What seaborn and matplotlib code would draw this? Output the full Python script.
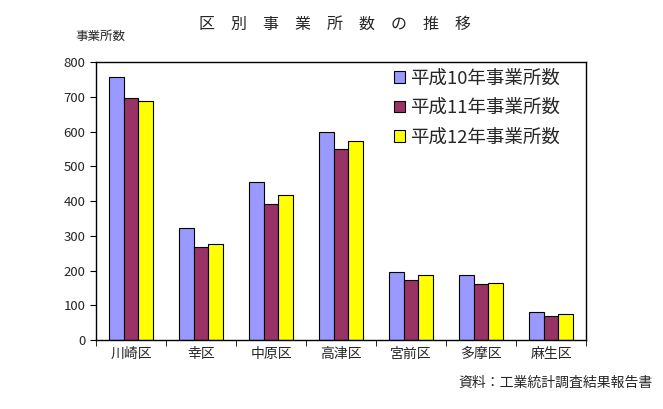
import pandas as pd
import seaborn as sns
import matplotlib.pyplot as plt
import numpy as np

# Data
wards = ['川崎区', '幸区', '中原区', '高津区', '宮前区', '多摩区', '麻生区']
series = ['平成10年事業所数', '平成11年事業所数', '平成12年事業所数']
h10 = [757, 322, 454, 598, 195, 186, 80]
h11 = [696, 267, 391, 550, 173, 160, 68]
h12 = [687, 276, 417, 573, 186, 163, 74]
colors = ['#9999FF', '#993366', '#FFFF00']

df = pd.DataFrame({'区': wards, series[0]: h10, series[1]: h11, series[2]: h12})
df_long = df.melt(id_vars='区', var_name='系列', value_name='事業所数')

sns.set_style('white')
plt.rcParams['font.family'] = ['Noto Sans CJK JP', 'DejaVu Sans']

fig = plt.figure(figsize=(6.63, 4.09), dpi=100)
ax = fig.add_axes([0.1448, 0.1687, 0.7391, 0.6797])

sns.barplot(
    data=df_long, x='区', y='事業所数', hue='系列',
    order=wards, hue_order=series, palette=colors,
    width=0.64, gap=0, edgecolor='black', linewidth=0.8,
    saturation=1, ax=ax,
)

ax.set_ylim(0, 800)
ax.set_yticks(np.arange(0, 801, 100))
ax.set_xlim(-0.5, len(wards) - 0.5)
ax.set_xlabel('')
ax.set_ylabel('')
for s in ax.spines.values():
    s.set_color('black')
    s.set_linewidth(1)

# tick marks between groups, labels at centers
ax.set_xticks(np.arange(-0.5, len(wards), 1), minor=True)
ax.tick_params(axis='x', which='major', length=0, labelsize=10, pad=5)
ax.tick_params(axis='x', which='minor', length=4, direction='out', color='black', bottom=True)
ax.tick_params(axis='y', length=4, direction='out', color='black', left=True, labelsize=9.5)

leg = ax.legend(
    loc='upper left', bbox_to_anchor=(0.594, 1.0), frameon=False,
    fontsize=13.3, handlelength=0.58, handleheight=0.58, handletextpad=0.25,
    labelspacing=0.62, borderaxespad=0.0,
)
for p in leg.get_patches():
    p.set_edgecolor('black')

fig.text(0.505, 0.94, '区　別　事　業　所　数　の　推　移', ha='center', va='center', fontsize=11.5)
fig.text(0.113, 0.91, '事業所数', ha='left', va='center', fontsize=9)
fig.text(0.985, 0.063, '資料：工業統計調査結果報告書', ha='right', va='center', fontsize=10)

fig.savefig('out.png', dpi=100)
